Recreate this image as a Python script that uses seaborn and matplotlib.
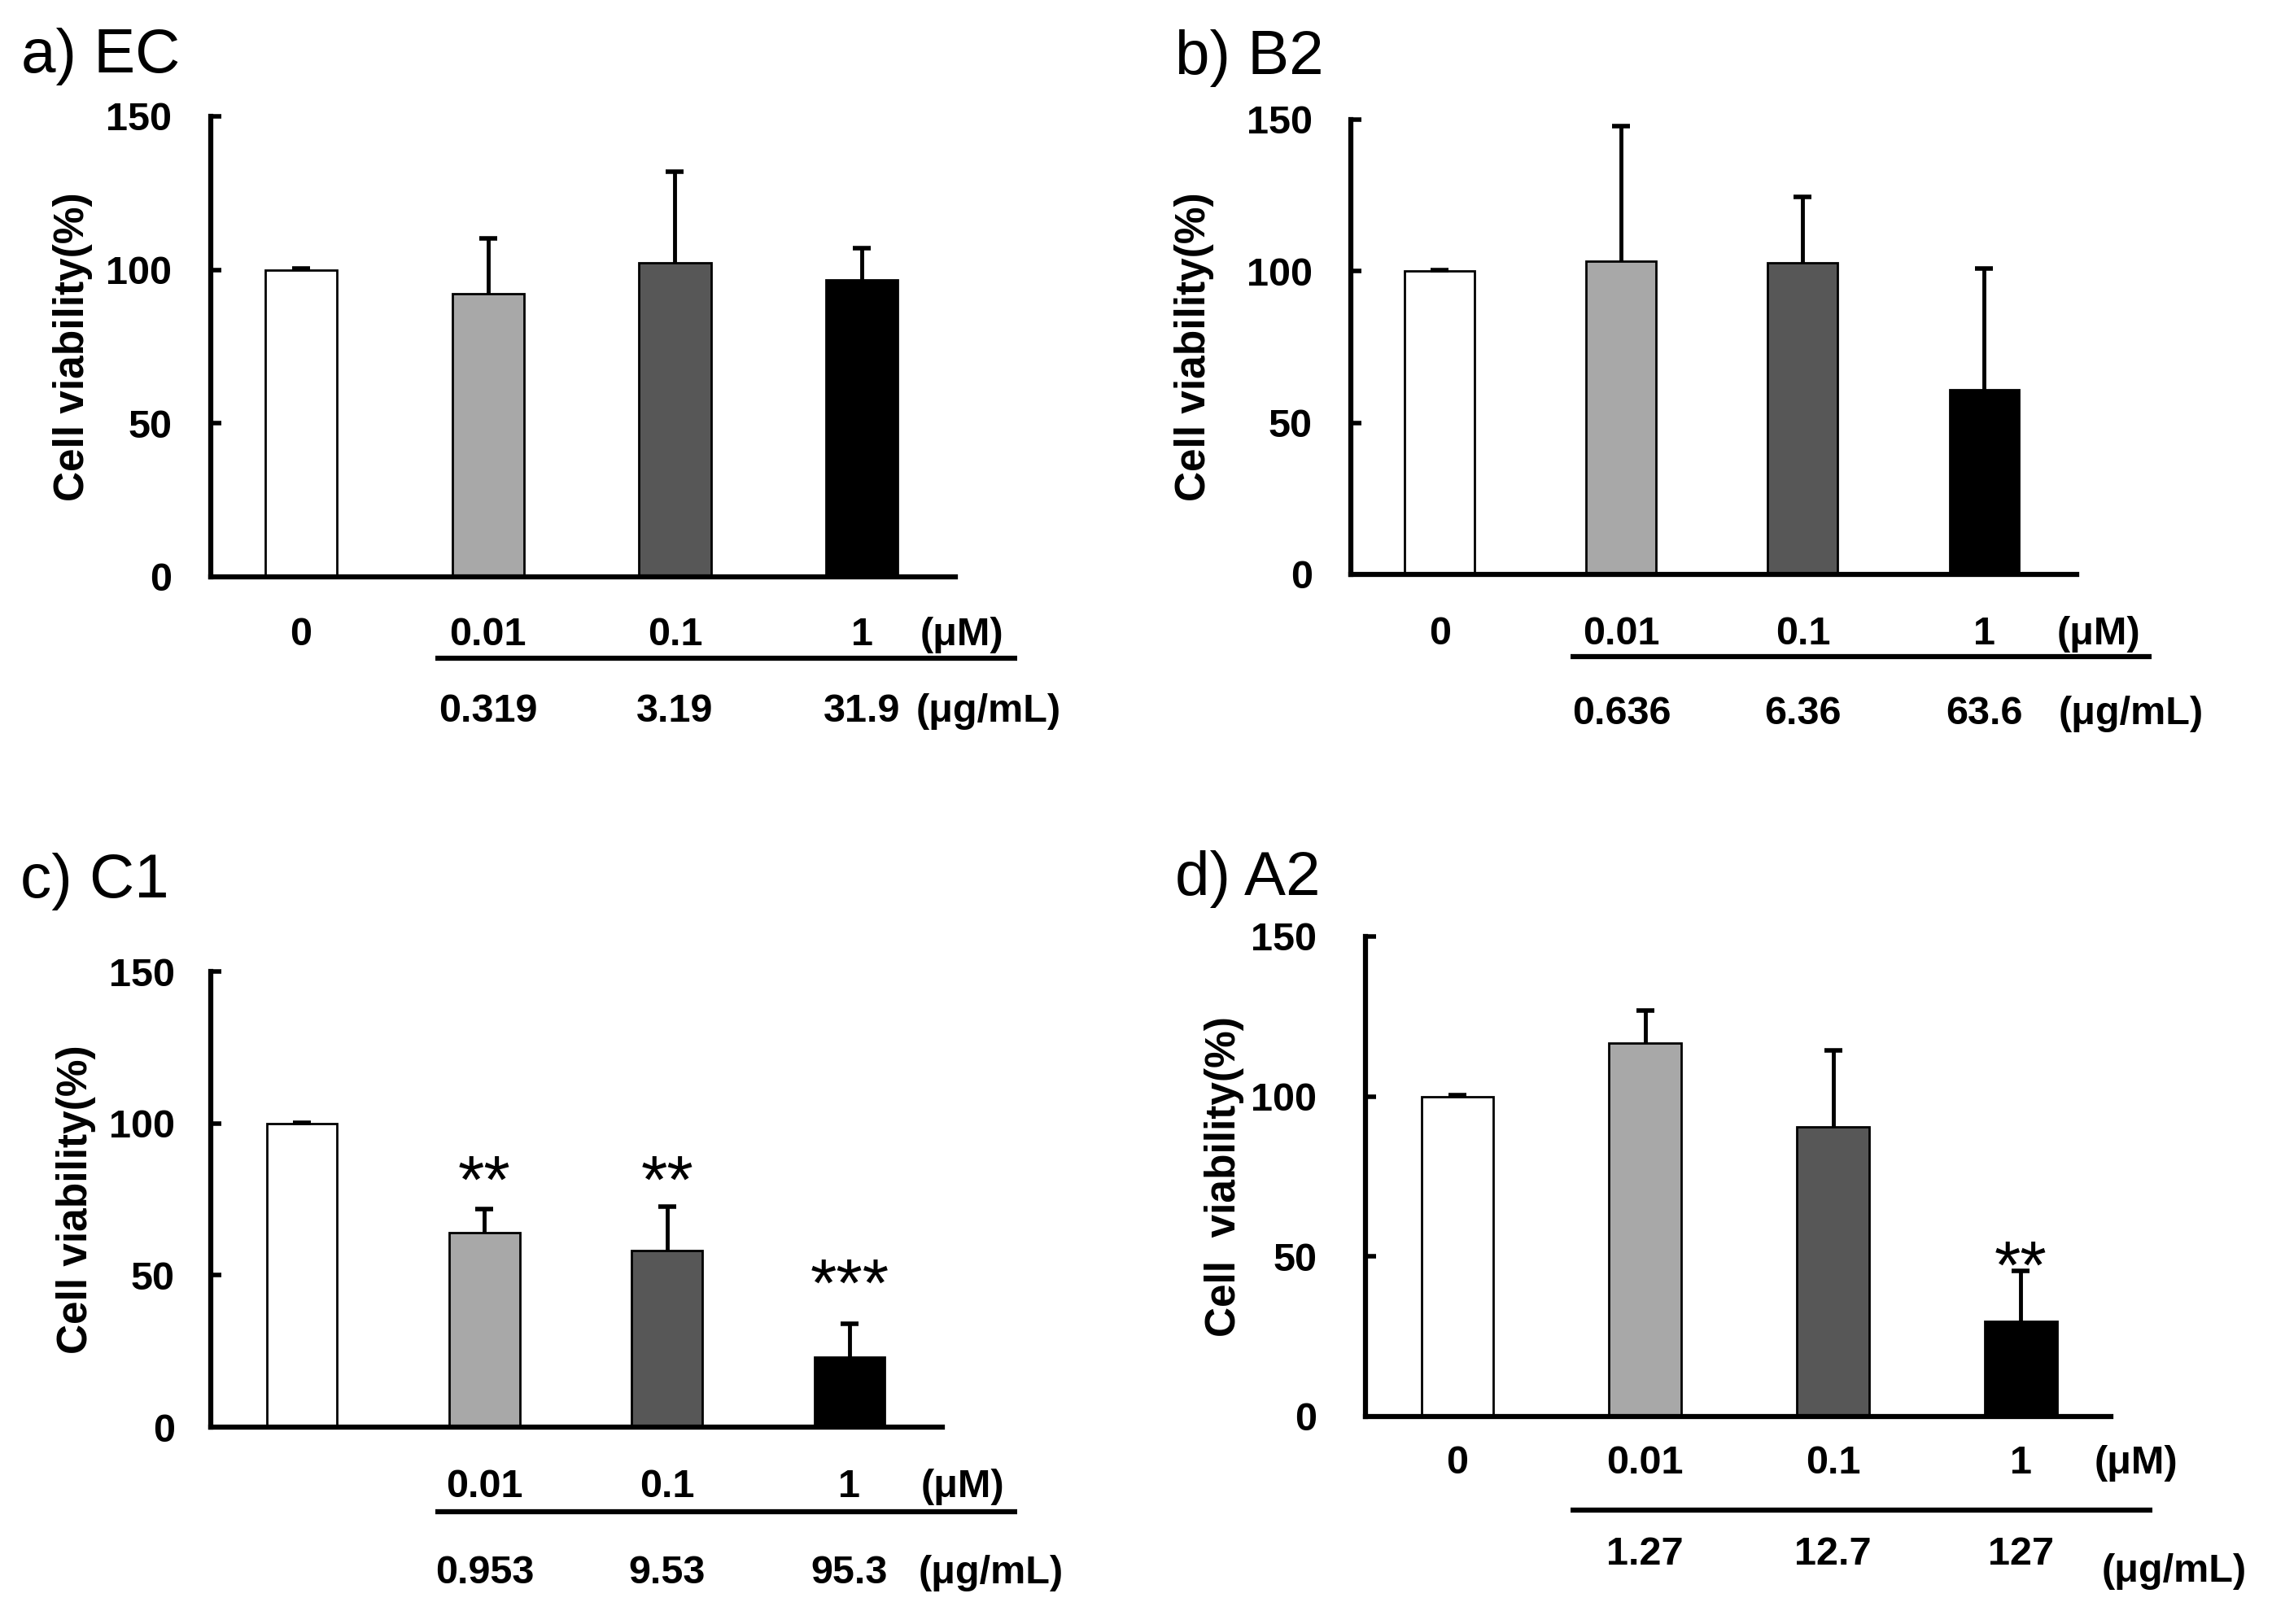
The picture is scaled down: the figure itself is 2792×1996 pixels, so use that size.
import numpy as np
import pandas as pd
import seaborn as sns
import matplotlib.pyplot as plt
from matplotlib.transforms import offset_copy

# doses (uM) shared by all panels
groups = ["0", "0.01", "0.1", "1"]
bar_colors = ["#ffffff", "#a8a8a8", "#575757", "#000000"]

# mean cell viability (%) and upper error
ec_mean = [100, 92.1, 102.2, 96.6]
ec_err = [0.3, 18.2, 29.8, 10.4]
b2_mean = [100, 103.3, 102.8, 61.0]
b2_err = [0.3, 44.4, 21.7, 39.9]
c1_mean = [100, 64.1, 58.2, 23.0]
c1_err = [0.3, 7.7, 14.4, 11.0]
a2_mean = [100, 116.7, 90.5, 29.6]
a2_err = [0.3, 10.2, 23.8, 16.0]

# same doses in ug/mL
ec_ugml = ["0.319", "3.19", "31.9"]
b2_ugml = ["0.636", "6.36", "63.6"]
c1_ugml = ["0.953", "9.53", "95.3"]
a2_ugml = ["1.27", "12.7", "127"]

# significance marks
c1_sig = ["", "**", "**", "***"]
a2_sig = ["", "", "", "**"]

sns.set_theme(style="ticks")
plt.rcParams["font.family"] = ["Liberation Sans", "DejaVu Sans"]
plt.rcParams["font.weight"] = "bold"
for k in ["text.color", "axes.labelcolor", "xtick.color", "ytick.color", "axes.edgecolor"]:
    plt.rcParams[k] = "black"

fig = plt.figure(figsize=(27.92, 19.96), dpi=100)

panels = [
    dict(title="a) EC", tx=0.0093, ty=0.9554, mean=ec_mean, err=ec_err, ugml=ec_ugml,
         sig=None, sig_y=None, show0=True, ylabel="Cell viability(%)",
         rect=[0.0928, 0.6448, 0.3277, 0.2836], xlim=(-0.483, 3.50), ypad=34.5, lpad=12,
         row1=35, brk=72, row2=103, unit2=103, brk_x=(0.72, 3.83), um_x=3.31, ug_x=3.29),
    dict(title="b) B2", tx=0.5172, ty=0.9544, mean=b2_mean, err=b2_err, ugml=b2_ugml,
         sig=None, sig_y=None, show0=True, ylabel="Cell viability(%)",
         rect=[0.5946, 0.6463, 0.3195, 0.2801], xlim=(-0.49, 3.51), ypad=34, lpad=29,
         row1=37, brk=73, row2=107, unit2=107, brk_x=(0.72, 3.92), um_x=3.40, ug_x=3.41),
    dict(title="c) C1", tx=0.009, ty=0.4474, mean=c1_mean, err=c1_err, ugml=c1_ugml,
         sig=c1_sig, sig_y=[0, 86.5, 86.5, 52.5], show0=False, ylabel="Cell viability(%)",
         rect=[0.0928, 0.1212, 0.322, 0.2806], xlim=(-0.50, 3.51), ypad=32, lpad=11,
         row1=37, brk=75, row2=113, unit2=113, brk_x=(0.73, 3.92), um_x=3.39, ug_x=3.38),
    dict(title="d) A2", tx=0.5172, ty=0.4489, mean=a2_mean, err=a2_err, ugml=a2_ugml,
         sig=a2_sig, sig_y=[0, 0, 0, 52], show0=True, ylabel="Cell  viability(%)",
         rect=[0.601, 0.1278, 0.3281, 0.2956], xlim=(-0.49, 3.48), ypad=43, lpad=6,
         row1=25, brk=83, row2=106, unit2=121, brk_x=(0.60, 3.70), um_x=3.39, ug_x=3.43),
]

for p in panels:
    ax = fig.add_axes(p["rect"])
    df = pd.DataFrame({"dose": groups, "viability": p["mean"]})
    sns.barplot(data=df, x="dose", y="viability", hue="dose", palette=bar_colors,
                saturation=1, width=0.385, edgecolor="black", linewidth=2,
                errorbar=None, legend=False, ax=ax)
    xs = np.arange(len(groups))
    eb = ax.errorbar(xs, p["mean"], yerr=[np.zeros(len(xs)), p["err"]], fmt="none",
                     ecolor="black", elinewidth=3.5, capsize=8, capthick=4, zorder=3)
    # only the upper cap is shown
    eb[1][0].set_visible(False)

    ax.set_xlim(*p["xlim"])
    ax.set_ylim(0, 150)
    ax.set_yticks([0, 50, 100, 150])
    sns.despine(ax=ax)
    for s in ["left", "bottom"]:
        ax.spines[s].set_linewidth(4.5)
        ax.spines[s].set_color("black")
    ax.tick_params(axis="y", direction="in", length=9, width=4, labelsize=35,
                   pad=p["ypad"], colors="black")
    ax.tick_params(axis="x", length=0, labelsize=35, pad=p["row1"], colors="black")
    ax.set_xticks(xs)
    ax.set_xticklabels(groups if p["show0"] else [""] + groups[1:])
    ax.set_xlabel("")
    ax.set_ylabel(p["ylabel"], fontsize=37, fontweight="bold", labelpad=p["lpad"])

    # unit text, bracket and ug/mL row under the axis
    t1 = offset_copy(ax.get_xaxis_transform(), fig=fig, y=-p["row1"], units="points")
    ax.text(p["um_x"], 0, "(μM)", transform=t1, ha="left", va="top", fontsize=35)
    tb = offset_copy(ax.get_xaxis_transform(), fig=fig, y=-p["brk"], units="points")
    ax.plot(p["brk_x"], [0, 0], transform=tb, color="black", lw=4.5,
            clip_on=False, solid_capstyle="butt")
    t2 = offset_copy(ax.get_xaxis_transform(), fig=fig, y=-p["row2"], units="points")
    for x, s in zip(xs[1:], p["ugml"]):
        ax.text(x, 0, s, transform=t2, ha="center", va="top", fontsize=35)
    tu = offset_copy(ax.get_xaxis_transform(), fig=fig, y=-p["unit2"], units="points")
    ax.text(p["ug_x"], 0, "(μg/mL)", transform=tu, ha="left", va="top", fontsize=35)

    if p["sig"]:
        for x, s, y in zip(xs, p["sig"], p["sig_y"]):
            if s:
                ax.annotate(s, (x, y), xytext=(0, -34), textcoords="offset points",
                            ha="center", va="baseline", fontsize=60, fontweight="normal")

    fig.text(p["tx"], p["ty"], p["title"], fontsize=55, fontweight="normal",
             va="baseline", ha="left")

fig.savefig("out.png", dpi=100, facecolor="white")
